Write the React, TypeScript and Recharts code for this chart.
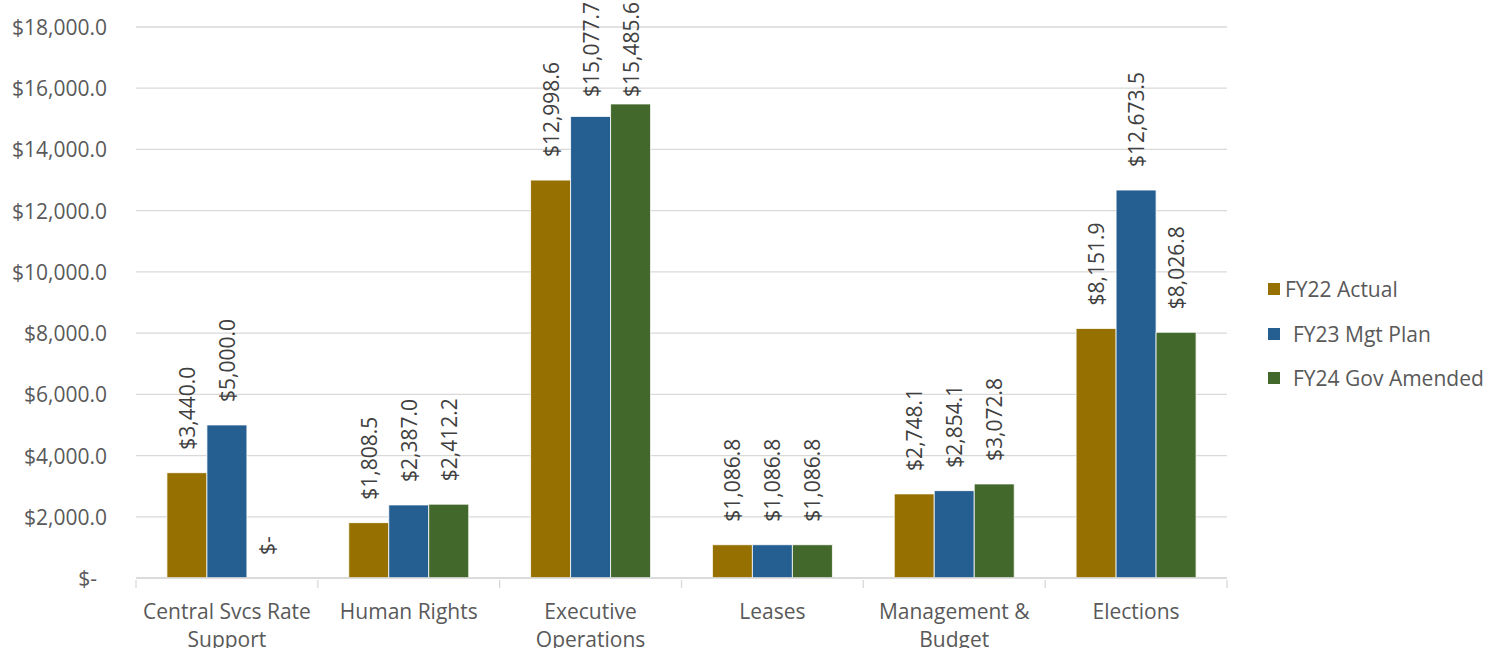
import React from 'react';
import { BarChart, Bar, XAxis, YAxis, CartesianGrid, LabelList, Cell } from 'recharts';

const categories = ['Central Svcs Rate Support', 'Human Rights', 'Executive Operations', 'Leases', 'Management & Budget', 'Elections'];
const fy22Actual = [3440.0, 1808.5, 12998.6, 1086.8, 2748.1, 8151.9];
const fy23MgtPlan = [5000.0, 2387.0, 15077.7, 1086.8, 2854.1, 12673.5];
const fy24GovAmended = [0, 2412.2, 15485.6, 1086.8, 3072.8, 8026.8];
const yTicks = [0, 2000, 4000, 6000, 8000, 10000, 12000, 14000, 16000, 18000];

const series = [
  { key: 'fy22', name: 'FY22 Actual', color: '#967000', values: fy22Actual },
  { key: 'fy23', name: 'FY23 Mgt Plan', color: '#255E91', values: fy23MgtPlan },
  { key: 'fy24', name: 'FY24 Gov Amended', color: '#43682B', values: fy24GovAmended },
];

const data = categories.map((name, i) => ({
  name,
  fy22: fy22Actual[i],
  fy23: fy23MgtPlan[i],
  fy24: fy24GovAmended[i],
}));

const W = 1498;
const H = 648;
const margin = { top: 27, right: 271, bottom: 40, left: 0 };
const yAxisWidth = 136;
const plotWidth = W - margin.left - margin.right - yAxisWidth;
const band = plotWidth / categories.length;
const FONT = '"Open Sans", "Noto Sans", sans-serif';
const AXIS_FS = 21;

const fmt = (v: number) =>
  v === 0 ? '$-' : '$' + v.toLocaleString('en-US', { minimumFractionDigits: 1, maximumFractionDigits: 1 });

// rough text length, used to keep tall labels inside the chart like Excel does
const estLen = (s: string) => s.split('').reduce((a, c) => a + (c === ',' || c === '.' ? 5.4 : 11.6), 0);

// simple greedy wrap, like Excel does for the category labels
const wrap = (s: string, max = 17) => {
  const lines: string[] = [];
  let cur = '';
  s.split(' ').forEach((w) => {
    const next = cur ? cur + ' ' + w : w;
    if (next.length > max && cur) {
      lines.push(cur);
      cur = w;
    } else cur = next;
  });
  if (cur) lines.push(cur);
  return lines;
};

const YTick = (props: any) => {
  const { x, y, payload } = props;
  const v = payload.value;
  return (
    <text x={v === 0 ? x - 10 : x} y={y} textAnchor="end" dominantBaseline="central" fill="#595959" fontSize={AXIS_FS} fontFamily={FONT}>
      {fmt(v)}
    </text>
  );
};

const XTick = (props: any) => {
  const { x, y, payload, index } = props;
  const lines = wrap(payload.value);
  return (
    <g>
      <line x1={x - band / 2} x2={x - band / 2} y1={y} y2={y + 8} stroke="#d9d9d9" strokeWidth={1.3} />
      {index === categories.length - 1 && (
        <line x1={x + band / 2} x2={x + band / 2} y1={y} y2={y + 8} stroke="#d9d9d9" strokeWidth={1.3} />
      )}
      <text textAnchor="middle" fill="#595959" fontSize={AXIS_FS} fontFamily={FONT}>
        {lines.map((l, i) => (
          <tspan key={i} x={x} y={y + 31 + i * 28} dominantBaseline="central">
            {l}
          </tspan>
        ))}
      </text>
    </g>
  );
};

const BarLabel = (props: any) => {
  const { x, y, width, height, value } = props;
  const cx = x + width / 2;
  const label = fmt(value);
  // zero bars get a 1px invisible stub, label sits on the baseline
  const top = value === 0 ? Math.max(y, y + (height || 0)) : Math.min(y, y + (height || 0));
  const ly = Math.max(top - 23, 5 + estLen(label));
  return (
    <text x={cx} y={ly} transform={`rotate(-90, ${cx}, ${ly})`} textAnchor="start" dominantBaseline="central" fill="#404040" fontSize={AXIS_FS} fontFamily={FONT}>
      {label}
    </text>
  );
};

export default function App() {
  return (
    <div style={{ width: W, height: H, background: '#fff', position: 'relative' }}>
      <style>{'body{margin:0}'}</style>
      <BarChart width={W} height={H} data={data} margin={margin} barCategoryGap="17%" barGap={0}>
        <CartesianGrid vertical={false} stroke="#d9d9d9" strokeWidth={1.3} />
        <XAxis dataKey="name" height={30} tick={<XTick />} tickLine={false} axisLine={{ stroke: '#d9d9d9', strokeWidth: 1.3 }} interval={0} tickSize={0} />
        <YAxis width={yAxisWidth} domain={[0, 18000]} ticks={yTicks} tick={<YTick />} tickLine={false} axisLine={false} tickSize={0} tickMargin={29} />
        {series.map((s) => (
          <Bar key={s.key} dataKey={s.key} name={s.name} fill={s.color} stroke="#ffffff" strokeWidth={0.8} minPointSize={1} isAnimationActive={false}>
            {s.values.map((v, i) => (
              <Cell key={i} fill={v === 0 ? 'none' : s.color} stroke={v === 0 ? 'none' : '#ffffff'} />
            ))}
            <LabelList dataKey={s.key} content={<BarLabel />} />
          </Bar>
        ))}
      </BarChart>
      <div style={{ position: 'absolute', left: 1268, top: 267, fontFamily: FONT, fontSize: AXIS_FS, color: '#595959' }}>
        {series.map((s, i) => (
          <div key={s.key} style={{ display: 'flex', alignItems: 'center', height: 44.5, whiteSpace: 'nowrap' }}>
            <span style={{ width: 12, height: 12, background: s.color, display: 'inline-block', marginRight: i === 0 ? 5 : 13 }} />
            <span>{s.name}</span>
          </div>
        ))}
      </div>
    </div>
  );
}
